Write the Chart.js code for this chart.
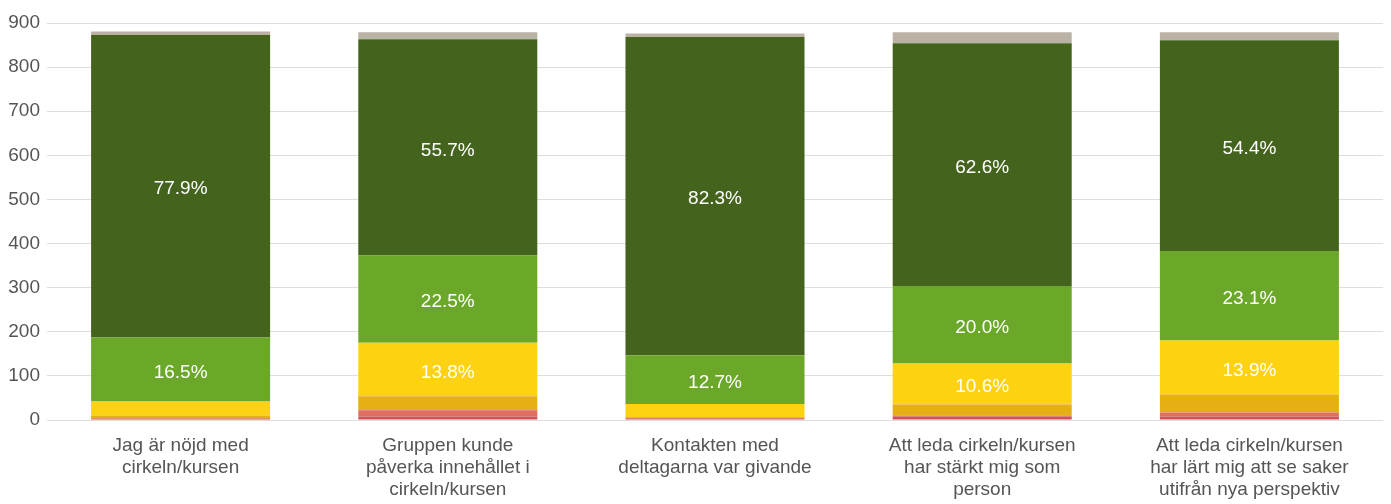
<!DOCTYPE html>
<html>
<head>
<meta charset="utf-8">
<script src="https://cdn.jsdelivr.net/npm/chart.js@4"></script>
<style>
html,body{margin:0;padding:0;background:#fff;}
#c{display:block;}
</style>
</head>
<body>
<canvas id="c" width="1391" height="504"></canvas>
<script>
const categories = [
  ["Jag är nöjd med", "cirkeln/kursen"],
  ["Gruppen kunde", "påverka innehållet i", "cirkeln/kursen"],
  ["Kontakten med", "deltagarna var givande"],
  ["Att leda cirkeln/kursen", "har stärkt mig som", "person"],
  ["Att leda cirkeln/kursen", "har lärt mig att se saker", "utifrån nya perspektiv"]
];
const darkRed    = [2, 8, 3, 8, 8];
const lightRed   = [2, 14, 2, 2, 9];
const orange     = [6, 32, 2, 25, 41];
const yellow     = [32, 121, 29, 93, 122];
const lightGreen = [145, 198, 111, 176, 203];
const darkGreen  = [686, 490, 721, 550, 478];
const gray       = [8, 16, 8, 25, 18];
const yTicks = [0, 100, 200, 300, 400, 500, 600, 700, 800, 900];

const FONT = '"Liberation Sans", Arial, sans-serif';

const pctPlugin = {
  id: 'pct',
  afterDatasetsDraw(chart) {
    const ctx = chart.ctx;
    const ds = chart.data.datasets;
    const n = chart.data.labels.length;
    const totals = [];
    for (let i = 0; i < n; i++) {
      let t = 0;
      ds.forEach(d => t += d.data[i]);
      totals.push(t);
    }
    ctx.save();
    ctx.fillStyle = '#ffffff';
    ctx.font = '19px ' + FONT;
    ctx.textAlign = 'center';
    ctx.textBaseline = 'middle';
    ds.forEach((d, di) => {
      const meta = chart.getDatasetMeta(di);
      meta.data.forEach((el, i) => {
        const p = d.data[i] / totals[i];
        if (p >= 0.08) {
          const y = (el.y + el.base) / 2 + 3;
          ctx.fillText((p * 100).toFixed(1) + '%', el.x, y);
        }
      });
    });
    ctx.restore();
  }
};

const mk = (label, data, color) => ({
  label, data, backgroundColor: color, borderWidth: 0,
  categoryPercentage: 0.67, barPercentage: 1.0
});

new Chart(document.getElementById('c'), {
  type: 'bar',
  data: {
    labels: categories,
    datasets: [
      mk('darkRed', darkRed, '#d05259'),
      mk('lightRed', lightRed, '#e26e5c'),
      mk('orange', orange, '#e6af14'),
      mk('yellow', yellow, '#fdd211'),
      mk('lightGreen', lightGreen, '#6ba728'),
      mk('darkGreen', darkGreen, '#44641e'),
      mk('gray', gray, '#bbb2a6')
    ]
  },
  options: {
    responsive: false,
    animation: false,
    devicePixelRatio: 1,
    layout: { padding: { top: 23, right: 8, left: 0, bottom: 0 } },
    plugins: { legend: { display: false }, tooltip: { enabled: false }, title: { display: false } },
    scales: {
      x: {
        stacked: true,
        grid: { display: false, drawTicks: false },
        border: { display: false },
        ticks: {
          color: '#555555',
          font: { family: FONT, size: 19, lineHeight: 1.16 },
          padding: 15,
          maxRotation: 0,
          autoSkip: false
        },
        afterFit(s) { s.height = 84; }
      },
      y: {
        stacked: true,
        min: 0, max: 900,
        afterBuildTicks(s) { s.ticks = yTicks.map(v => ({ value: v })); },
        grid: { color: '#dedede', lineWidth: 1, drawTicks: false },
        border: { display: false },
        ticks: {
          color: '#555555',
          font: { family: FONT, size: 19 },
          padding: 7
        },
        afterFit(s) { s.width = 47; }
      }
    }
  },
  plugins: [pctPlugin]
});
</script>
</body>
</html>
